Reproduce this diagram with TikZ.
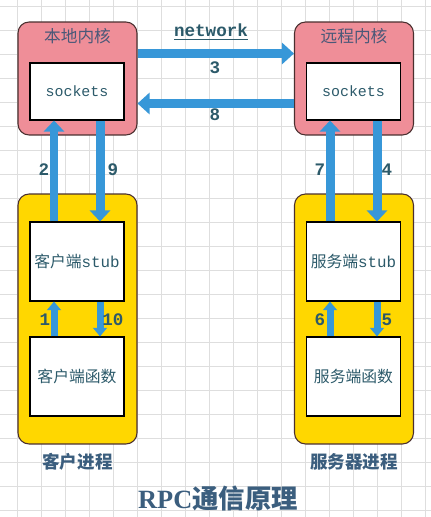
\documentclass[tikz,border=0pt]{standalone}
\usepackage{fontspec}
\setmainfont{Liberation Serif}
\setmonofont{Liberation Mono}
\newfontfamily\cjk{Noto Sans CJK SC}
\usepackage{xcolor}
\usepackage{tikz}
\usetikzlibrary{arrows.meta}
\definecolor{kernelPink}{HTML}{EF8E98}
\definecolor{procYellow}{HTML}{FFD700}
\definecolor{pipeBlue}{HTML}{3797D8}
\definecolor{gridGray}{HTML}{DEDEDE}
\definecolor{boxEdge}{HTML}{4A2F2F}
\definecolor{headSlate}{HTML}{4A5878}
\definecolor{textTeal}{HTML}{2C5A6A}
\definecolor{titleBlue}{HTML}{3B5E7E}
\tikzset{
kernelBox/.style = {rectangle, rounded corners=0.22cm, draw=boxEdge, fill=kernelPink,
                    minimum width=2.38cm, minimum height=2.26cm, line width=0.6pt},
procBox/.style = {rectangle, rounded corners=0.22cm, draw=boxEdge, fill=procYellow,
                  minimum width=2.38cm, minimum height=5cm, line width=0.6pt},
innerBox/.style = {rectangle, draw=black, fill=white, minimum width=1.88cm,
                   minimum height=#1, inner sep=0pt, line width=0.6pt,
                   text=textTeal, font=\fontsize{9}{11}\selectfont},
innerBox/.default = 1.58cm, % height of the white box
headText/.style = {text=headSlate, font=\cjk\fontsize{9.5}{11}\selectfont},
num/.style = {text=textTeal, font=\ttfamily\bfseries\fontsize{10}{12}\selectfont},
bigArrow/.style = {draw=pipeBlue, line width=0.18cm, -{Triangle[width=0.42cm, length=0.24cm]}},
bigArrowV/.style = {draw=pipeBlue, line width=0.18cm, -{Triangle[width=0.4cm, length=0.22cm]}},
smallArrow/.style = {draw=pipeBlue, line width=0.14cm, -{Triangle[width=0.27cm, length=0.17cm]}}
}

\begin{document}
\begin{tikzpicture}[x=0.02cm, y=-0.02cm]
\useasboundingbox (0,0) rectangle (431,517);
\fill[white] (0,0) rectangle (431,517);
% background grid
\foreach \gx in {0,...,17} \draw[gridGray, line width=0.5pt] (17.7+24*\gx,0) -- (17.7+24*\gx,517);
\foreach \gy in {0,...,21} \draw[gridGray, line width=0.5pt] (0,6+24*\gy) -- (431,6+24*\gy);

% kernels
\node[kernelBox] (localKernel) at (77.5,78.5) {};
\node[kernelBox] (remoteKernel) at (354,78.5) {};
\node[headText] (localTitle) at (77.5,36) {本地内核};
\node[headText] (remoteTitle) at (354,36) {远程内核};
\node[innerBox=1.14cm, font=\ttfamily\fontsize{8.5}{10}\selectfont] (localSock) at (77,91.5) {sockets};
\node[innerBox=1.14cm, font=\ttfamily\fontsize{8.5}{10}\selectfont] (remoteSock) at (353.5,91.5) {sockets};

% processes
\node[procBox] (clientProc) at (77.5,319) {};
\node[procBox] (serverProc) at (354,319) {};
\node[innerBox] (clientStub) at (77,261.5) {{\cjk 客户端}\texttt{stub}};
\node[innerBox] (serverStub) at (353.5,261.5) {{\cjk 服务端}\texttt{stub}};
\node[innerBox, font=\cjk\fontsize{9}{11}\selectfont] (clientFunc) at (77,376.5) {客户端函数};
\node[innerBox, font=\cjk\fontsize{9}{11}\selectfont] (serverFunc) at (353.5,376.5) {服务端函数};
\node[text=titleBlue, font=\cjk\bfseries\fontsize{10}{12}\selectfont] (clientName) at (77.5,462) {客户进程};
\node[text=titleBlue, font=\cjk\bfseries\fontsize{10}{12}\selectfont] (serverName) at (354,462) {服务器进程};

% network
\node[text=textTeal, font=\ttfamily\bfseries\fontsize{10}{12}\selectfont] (netLabel) at (211,32) {\underline{network}};
\draw[bigArrow] (localKernel.east |- 0,53.5) -- (remoteKernel.west |- 0,53.5);
\draw[bigArrow] (remoteKernel.west |- 0,103.5) -- (localKernel.east |- 0,103.5);
\node[num] (n3) at (215,68) {3};
\node[num] (n8) at (215,115) {8};

% client side
\draw[bigArrowV] (clientStub.north -| 54,0) -- (localSock.south -| 54,0);
\draw[bigArrowV] (localSock.south -| 100,0) -- (clientStub.north -| 100,0);
\draw[smallArrow] (clientFunc.north -| 54,0) -- (clientStub.south -| 54,0);
\draw[smallArrow] (clientStub.south -| 100,0) -- (clientFunc.north -| 100,0);
\node[num] (n2) at (44,170) {2};
\node[num] (n9) at (113,170) {9};
\node[num] (n1) at (45,320) {1};
\node[num] (n10) at (113,320) {10};

% server side
\draw[bigArrowV] (serverStub.north -| 330,0) -- (remoteSock.south -| 330,0);
\draw[bigArrowV] (remoteSock.south -| 377,0) -- (serverStub.north -| 377,0);
\draw[smallArrow] (serverFunc.north -| 330,0) -- (serverStub.south -| 330,0);
\draw[smallArrow] (serverStub.south -| 377,0) -- (serverFunc.north -| 377,0);
\node[num] (n7) at (320,170) {7};
\node[num] (n4) at (387,170) {4};
\node[num] (n6) at (320,320) {6};
\node[num] (n5) at (387,320) {5};

% caption
\node[text=titleBlue, font=\fontsize{15}{17}\selectfont\bfseries] (caption) at (218,498) {RPC{\cjk 通信原理}};
\end{tikzpicture}
\end{document}
